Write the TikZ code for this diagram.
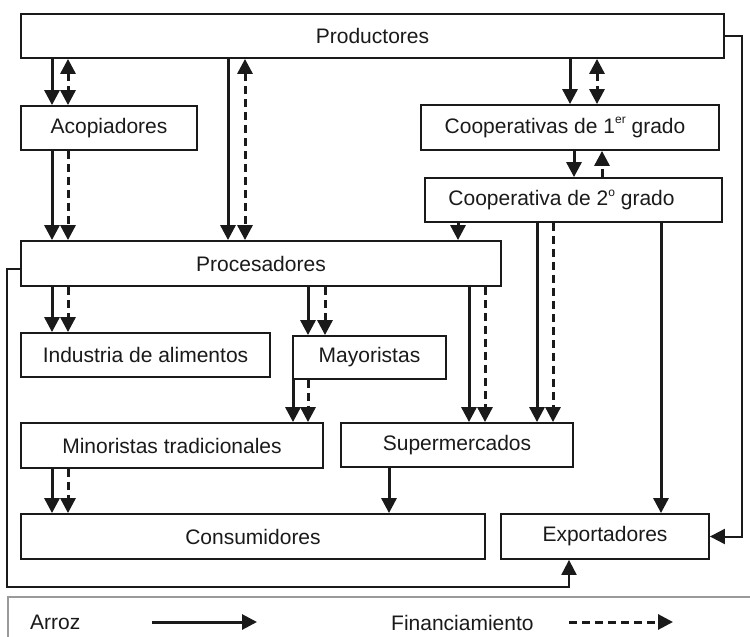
\documentclass[tikz,border=0pt]{standalone}
\usepackage{fontspec}
\setmainfont{Liberation Sans}
\usetikzlibrary{arrows.meta}
\definecolor{ink}{HTML}{1A1A1A}
\definecolor{framegray}{HTML}{9A9A9A}
% raised small text for ordinals (1er, 2o)
\newcommand{\exptext}[1]{\raisebox{0.85ex}{\fontsize{12bp}{12bp}\selectfont #1}}

\begin{document}
\begin{tikzpicture}[x=1bp,y=-1bp,
  every node/.style={font=\fontsize{21bp}{25bp}\selectfont, text=ink, inner sep=0pt},
  box/.style={draw=ink, line width=1.8bp, fill=white, rectangle},
  tipstyle/.style={-{Triangle[width=15bp,length=15bp]}},
  rice/.style={draw=ink, line width=3bp, tipstyle},
  credit/.style={draw=ink, line width=3bp, dash pattern=on 8bp off 5bp, tipstyle},
  creditboth/.style={draw=ink, line width=3bp, dash pattern=on 8bp off 5bp,
    {Triangle[width=15bp,length=15bp]}-{Triangle[width=15bp,length=15bp]}},
  route/.style={draw=ink, line width=2bp, tipstyle}
]
\useasboundingbox (0,0) rectangle (750,637);

% ---- actors ----
\node[box, minimum width=703bp, minimum height=44bp] (prod) at (372.5,36) {Productores};
\node[box, minimum width=176bp, minimum height=44bp] (acop) at (109,128) {Acopiadores};
\node[box, minimum width=298bp, minimum height=45bp] (coop1) at (570,127.5) {Cooperativas de 1\exptext{er} grado\hspace*{10bp}};
\node[box, minimum width=297bp, minimum height=44bp] (coop2) at (573.5,200) {Cooperativa de 2\exptext{o} grado\hspace*{24bp}};
\node[box, minimum width=480bp, minimum height=45bp] (proc) at (261,263.5) {Procesadores};
\node[box, minimum width=249bp, minimum height=44bp] (ind) at (145.5,355) {Industria de alimentos};
\node[box, minimum width=153bp, minimum height=43bp] (may) at (369.5,357.5) {Mayoristas};
\node[box, minimum width=302bp, minimum height=45bp] (mino) at (172,445.5) {Minoristas tradicionales};
\node[box, minimum width=232bp, minimum height=44bp] (super) at (457,445) {Supermercados};
\node[box, minimum width=464bp, minimum height=45bp] (cons) at (253,536.5) {Consumidores};
\node[box, minimum width=208bp, minimum height=45bp] (expo) at (605,536.5) {Exportadores};

% ---- columns used by the vertical flows ----
\coordinate (xA) at (52,0);
\coordinate (xB) at (68,0);
\coordinate (xC) at (228,0);
\coordinate (xD) at (245,0);
\coordinate (xE) at (570,0);
\coordinate (xF) at (597,0);
\coordinate (xG) at (574,0);
\coordinate (xH) at (602,0);
\coordinate (xI) at (458,0);
\coordinate (xJ) at (537,0);
\coordinate (xK) at (553,0);
\coordinate (xL) at (661,0);
\coordinate (xM) at (308,0);
\coordinate (xN) at (325,0);
\coordinate (xO) at (469,0);
\coordinate (xP) at (485,0);
\coordinate (xQ) at (293,0);
\coordinate (xR) at (389,0);
\coordinate (xS) at (7,0);
\coordinate (xT) at (742,0);
\coordinate (xU) at (569,0);
\coordinate (yS) at (0,269);
\coordinate (yB) at (0,587);

% ---- Productores ----
\draw[rice] (prod.south -| xA) -- (acop.north -| xA);
\draw[creditboth] (prod.south -| xB) -- (acop.north -| xB);
\draw[rice] (prod.south -| xC) -- (proc.north -| xC);
\draw[creditboth] (prod.south -| xD) -- (proc.north -| xD);
\draw[rice] (prod.south -| xE) -- (coop1.north -| xE);
\draw[creditboth] (prod.south -| xF) -- (coop1.north -| xF);

% ---- Acopiadores ----
\draw[rice] (acop.south -| xA) -- (proc.north -| xA);
\draw[credit] (acop.south -| xB) -- (proc.north -| xB);

% ---- cooperatives ----
\draw[rice] (coop1.south -| xG) -- (coop2.north -| xG);
\draw[credit] (coop2.north -| xH) -- (coop1.south -| xH);
\draw[rice] (coop2.south -| xI) -- (proc.north -| xI);
\draw[rice] (coop2.south -| xJ) -- (super.north -| xJ);
\draw[credit] (coop2.south -| xK) -- (super.north -| xK);
\draw[rice] (coop2.south -| xL) -- (expo.north -| xL);

% ---- Procesadores ----
\draw[rice] (proc.south -| xA) -- (ind.north -| xA);
\draw[credit] (proc.south -| xB) -- (ind.north -| xB);
\draw[rice] (proc.south -| xM) -- (may.north -| xM);
\draw[credit] (proc.south -| xN) -- (may.north -| xN);
\draw[rice] (proc.south -| xO) -- (super.north -| xO);
\draw[credit] (proc.south -| xP) -- (super.north -| xP);

% ---- retail ----
\draw[rice] (may.south -| xQ) -- (mino.north -| xQ);
\draw[credit] (may.south -| xM) -- (mino.north -| xM);
\draw[rice] (mino.south -| xA) -- (cons.north -| xA);
\draw[credit] (mino.south -| xB) -- (cons.north -| xB);
\draw[rice] (super.south -| xR) -- (cons.north -| xR);

% ---- routed links to Exportadores ----
\draw[route] (prod.east) -- (xT |- prod.east) -- (xT |- expo.east) -- (expo.east);
\draw[route] (proc.west |- yS) -- (xS |- yS) -- (xS |- yB) -- (xU |- yB) -- (expo.south -| xU);

% ---- legend ----
\draw[framegray, line width=1.5bp] (8,640) -- (8,597) -- (752,597);
\node[anchor=west] (lgA) at (30,622) {Arroz};
\coordinate (lgA1) at (152,622);
\coordinate (lgA2) at (257,622);
\draw[rice] (lgA1) -- (lgA2);
\node[anchor=west] (lgF) at (391,623) {Financiamiento};
\coordinate (lgF1) at (569,622);
\coordinate (lgF2) at (673,622);
\draw[credit] (lgF1) -- (lgF2);
\end{tikzpicture}
\end{document}
